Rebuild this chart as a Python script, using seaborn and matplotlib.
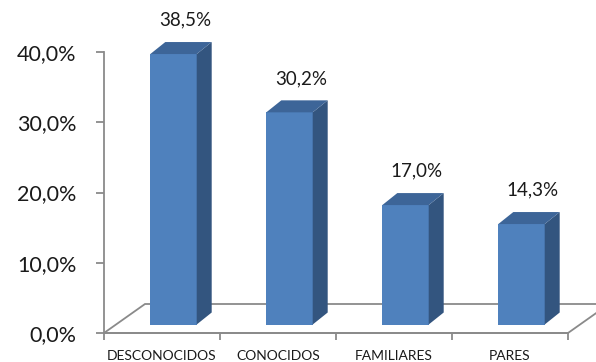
import matplotlib
matplotlib.use("Agg")
import matplotlib.pyplot as plt
import matplotlib.transforms as mtransforms
from matplotlib.patches import Polygon
from matplotlib.ticker import FixedLocator, FuncFormatter
import seaborn as sns

# Data
categorias = ["DESCONOCIDOS", "CONOCIDOS", "FAMILIARES", "PARES"]
valores = [38.5, 30.2, 17.0, 14.3]
ticks_y = [0, 10, 20, 30, 40]

sns.set_theme(style="white")
plt.rcParams["font.family"] = ["Lato", "DejaVu Sans"]

FRONT = "#4F81BD"
SIDE = "#33557F"
TOP = "#3D6598"
GRID = "#8A8A8A"
TXT = "#1A1A1A"

DPI = 100
fig = plt.figure(figsize=(5.96, 3.62), dpi=DPI)
W, H = 596, 362
ax = fig.add_axes([104 / W, (H - 333) / H, (568 - 104) / W, (333 - 52) / H])

sns.barplot(x=categorias, y=valores, color=FRONT, saturation=1, width=0.4,
            linewidth=0, ax=ax)
ax.set_xlim(-0.5, 3.5)
ax.set_ylim(0, 40)

# pixel scale of the data axes
px_x = (568 - 104) / 4.0
px_y = (333 - 52) / 40.0

# bars sit part-way into the floor: shift them right/up in screen space
shift = mtransforms.ScaledTranslation(11.5 / DPI, 8.5 / DPI, fig.dpi_scale_trans)
bar_tr = ax.transData + shift

# depth of each bar and of the floor, in data units
bdx, bdy = 15 / px_x, 12 / px_y
fdx, fdy = 41 / px_x, 29 / px_y

# floor outline
floor = Polygon([(-0.5, 0), (3.5, 0), (3.5 + fdx, fdy), (-0.5 + fdx, fdy)],
                closed=True, facecolor="none", edgecolor=GRID, linewidth=1.3,
                clip_on=False, zorder=0.5)
ax.add_patch(floor)

for p in list(ax.patches):
    if p is floor:
        continue
    p.set_transform(bar_tr)
    p.set_clip_on(False)
    p.set_zorder(2)
    x0, w, h = p.get_x(), p.get_width(), p.get_height()
    side = Polygon([(x0 + w, 0), (x0 + w, h), (x0 + w + bdx, h + bdy), (x0 + w + bdx, bdy)],
                   closed=True, facecolor=SIDE, edgecolor="none",
                   transform=bar_tr, clip_on=False, zorder=2)
    top = Polygon([(x0, h), (x0 + w, h), (x0 + w + bdx, h + bdy), (x0 + bdx, h + bdy)],
                  closed=True, facecolor=TOP, edgecolor="none",
                  transform=bar_tr, clip_on=False, zorder=2)
    ax.add_patch(side)
    ax.add_patch(top)

# value labels above each bar
for i, v in enumerate(valores):
    ax.annotate(f"{v:.1f}".replace(".", ",") + "%", xy=(i, v),
                xytext=(16.5, 30.5), textcoords="offset points",
                ha="center", va="center", fontsize=13.5, color=TXT,
                annotation_clip=False)

# axes styling
for s in ("top", "right"):
    ax.spines[s].set_visible(False)
for s in ("left", "bottom"):
    ax.spines[s].set_color(GRID)
    ax.spines[s].set_linewidth(1.3)
    ax.spines[s].set_zorder(0.5)

ax.yaxis.set_major_locator(FixedLocator(ticks_y))
ax.yaxis.set_major_formatter(FuncFormatter(lambda v, _: f"{v:.1f}".replace(".", ",") + "%"))
ax.tick_params(axis="y", which="major", left=True, length=6, width=1.3, color=GRID,
               labelsize=15.5, labelcolor=TXT, pad=14)

ax.set_xticks(range(len(categorias)))
ax.set_xticklabels(categorias)
ax.set_xticks([-0.5, 0.5, 1.5, 2.5, 3.5], minor=True)
ax.tick_params(axis="x", which="major", bottom=False, length=0, labelsize=10,
               labelcolor=TXT, pad=12)
ax.tick_params(axis="x", which="minor", bottom=True, length=5, width=1.3, color=GRID)
ax.set_xlabel("")
ax.set_ylabel("")
ax.set_facecolor("white")

fig.savefig("out.png", dpi=DPI, facecolor="white")
